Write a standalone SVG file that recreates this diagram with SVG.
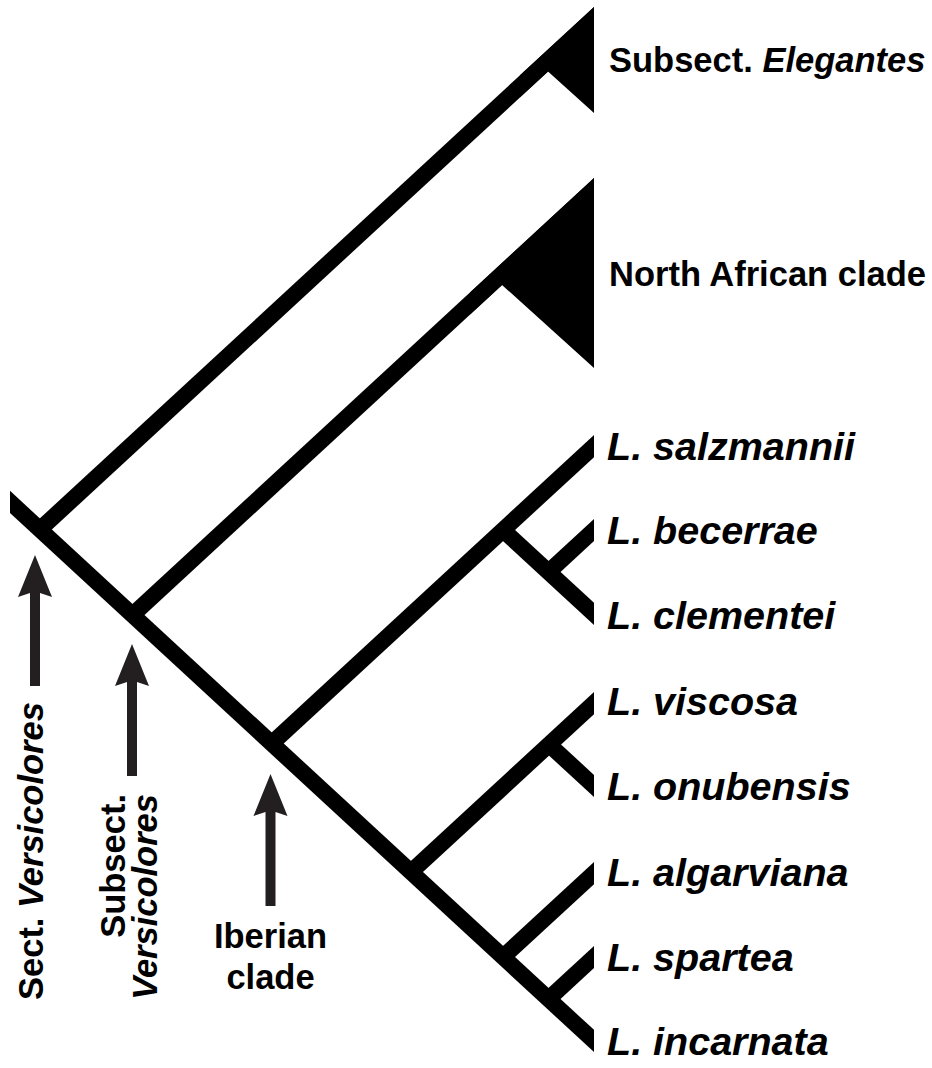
<svg xmlns="http://www.w3.org/2000/svg" width="932" height="1068" viewBox="0 0 932 1068">
  <defs>
    <!-- branch tips are cut square at the label column and the root is cut at the left -->
    <clipPath id="treeClip">
      <rect x="10" y="0" width="584" height="1068"/>
    </clipPath>
    <style>
      .branch { stroke: #000; stroke-width: 16.3; stroke-linecap: butt; fill: none; }
      .clade { fill: #000; }
      .arrow { fill: #231f20; }
      .lbl { font-family: "Liberation Sans", Arial, sans-serif; font-weight: bold; fill: #000; }
      .tax { font-size: 39.5px; font-style: italic; }
      .grp { font-size: 34.5px; }
      .it { font-style: italic; }
    </style>
  </defs>
  <rect width="932" height="1068" fill="#fff"/>

  <!-- tree branches -->
  <g id="connectors" clip-path="url(#treeClip)">
    <line class="branch" x1="0" y1="492.7" x2="600" y2="1046.5"/>
    <line class="branch" x1="39.8" y1="529.5" x2="600" y2="12.5"/>
    <line class="branch" x1="132.5" y1="615" x2="600" y2="183.5"/>
    <line class="branch" x1="271.7" y1="743.5" x2="600" y2="440.5"/>
    <line class="branch" x1="503" y1="530" x2="600" y2="619.5"/>
    <line class="branch" x1="548.5" y1="572" x2="600" y2="524.5"/>
    <line class="branch" x1="410.9" y1="872" x2="600" y2="697.5"/>
    <line class="branch" x1="549" y1="744.5" x2="600" y2="791.5"/>
    <line class="branch" x1="503" y1="957" x2="600" y2="867.5"/>
    <line class="branch" x1="548.5" y1="999" x2="600" y2="951.5"/>
  </g>

  <!-- collapsed clades -->
  <g id="clade-elegantes">
    <polygon class="clade" points="520,75.3 594,7 594,113 548,71.5 520,97.3"/>
    <text class="lbl grp" x="609" y="72">Subsect. <tspan class="it">Elegantes</tspan></text>
  </g>
  <g id="clade-north-african">
    <polygon class="clade" points="470,292.5 594,178 594,368 502,284.9 470,314.5"/>
    <text class="lbl grp" x="609" y="286">North African clade</text>
  </g>

  <!-- terminal taxa -->
  <g id="taxon-salzmannii"><text class="lbl tax" x="607" y="460">L. salzmannii</text></g>
  <g id="taxon-becerrae"><text class="lbl tax" x="607" y="544">L. becerrae</text></g>
  <g id="taxon-clementei"><text class="lbl tax" x="607" y="629">L. clementei</text></g>
  <g id="taxon-viscosa"><text class="lbl tax" x="607" y="715">L. viscosa</text></g>
  <g id="taxon-onubensis"><text class="lbl tax" x="607" y="800">L. onubensis</text></g>
  <g id="taxon-algarviana"><text class="lbl tax" x="607" y="886">L. algarviana</text></g>
  <g id="taxon-spartea"><text class="lbl tax" x="607" y="971">L. spartea</text></g>
  <g id="taxon-incarnata"><text class="lbl tax" x="607" y="1055">L. incarnata</text></g>

  <!-- node markers -->
  <g id="marker-sect">
    <polygon class="arrow" points="35,555 52,597 40,593 40,686 30,686 30,593 18,597"/>
    <text class="lbl grp" transform="translate(43,1000) rotate(-90)">Sect. <tspan class="it">Versicolores</tspan></text>
  </g>
  <g id="marker-subsect">
    <polygon class="arrow" points="132,644 149,686 137,682 137,776 127,776 127,682 115,686"/>
    <text class="lbl grp" text-anchor="end" transform="translate(125,794) rotate(-90)">Subsect.</text>
    <text class="lbl grp it" text-anchor="end" transform="translate(157,794) rotate(-90)">Versicolores</text>
  </g>
  <g id="marker-iberian">
    <polygon class="arrow" points="270.5,774 287.5,816 275.5,812 275.5,906 265.5,906 265.5,812 253.5,816"/>
    <text class="lbl grp" text-anchor="middle" x="270.5" y="948">Iberian</text>
    <text class="lbl grp" text-anchor="middle" x="270.5" y="989">clade</text>
  </g>
</svg>
